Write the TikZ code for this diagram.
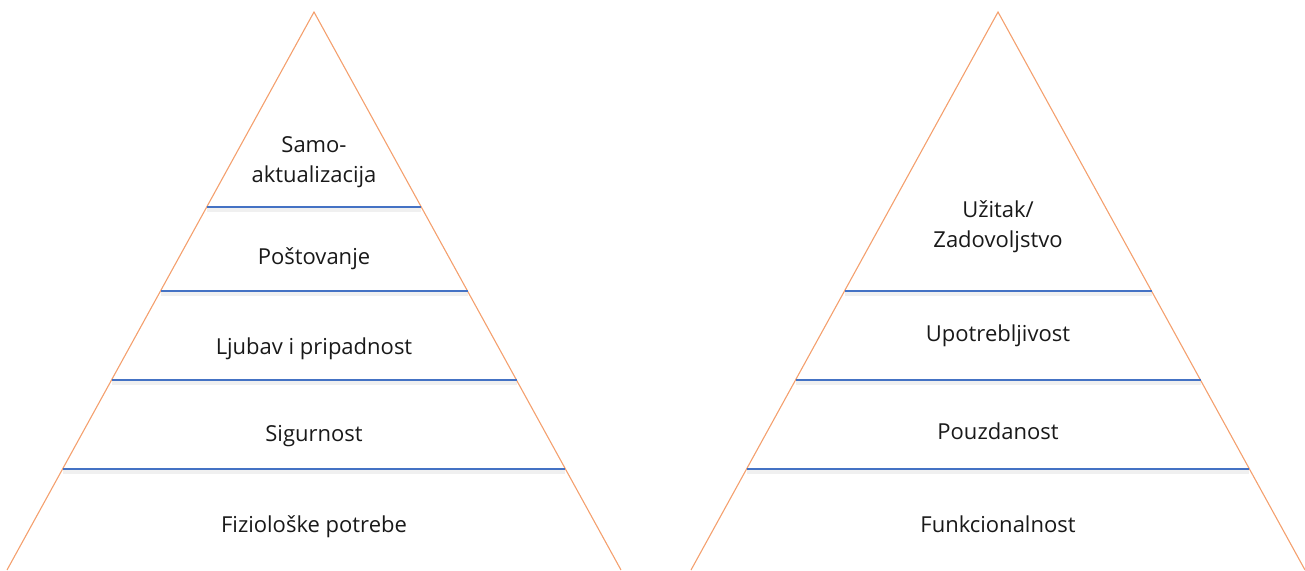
\documentclass[tikz,border=0pt]{standalone}
\usepackage{fontspec}
\setmainfont{Open Sans}
\usepackage{tikz}
\pgfdeclarelayer{bg}
\pgfsetlayers{bg,main}
\definecolor{edgeorange}{RGB}{244,160,110}
\definecolor{levelblue}{RGB}{68,114,196}
\tikzset{
    every node/.style={align=center, inner sep=0mm, font=\fontsize{22}{30}\selectfont, text=black!90}
}
\tikzset{side/.style={draw=edgeorange, line width=1.1pt}}
\tikzset{level/.style={draw=levelblue, line width=2.6pt}}
\tikzset{levelshadow/.style={draw=black, line width=4pt, opacity=.06}}

\begin{document}
\begin{tikzpicture}[x=1pt, y=-1pt]
        \useasboundingbox (0,0) rectangle (1305,570);
        % left pyramid
        \coordinate (a0) at (314,12);
        \coordinate (b0) at (7,570);
        \coordinate (c0) at (621,570);
        \draw [side] (b0) -- (a0) -- (c0);
        \coordinate (l1) at (206.7,207);
        \coordinate (r1) at (421.3,207);
        \coordinate (l2) at (160.5,291);
        \coordinate (r2) at (467.5,291);
        \coordinate (l3) at (111.5,380);
        \coordinate (r3) at (516.5,380);
        \coordinate (l4) at (62.6,469);
        \coordinate (r4) at (565.4,469);
        \node (v0) at (314,162) {Samo-\\aktualizacija};
        \node (v1) at (314,259) {Po\v{s}tovanje};
        \node (v2) at (314,349) {Ljubav i pripadnost};
        \node (v3) at (314,436) {Sigurnost};
        \node (v4) at (314,527) {Fiziolo\v{s}ke potrebe};
        % right pyramid
        \coordinate (a1) at (998,12);
        \coordinate (b1) at (691,570);
        \coordinate (c1) at (1305,570);
        \draw [side] (b1) -- (a1) -- (c1);
        \coordinate (l5) at (844.5,291);
        \coordinate (r5) at (1151.5,291);
        \coordinate (l6) at (795.5,380);
        \coordinate (r6) at (1200.5,380);
        \coordinate (l7) at (746.6,469);
        \coordinate (r7) at (1249.4,469);
        \node (w0) at (998,227) {U\v{z}itak/\\Zadovoljstvo};
        \node (w1) at (998,336) {Upotrebljivost};
        \node (w2) at (998,431) {Pouzdanost};
        \node (w3) at (998,524) {Funkcionalnost};
        \begin{pgfonlayer}{bg}
                \foreach \i in {1,...,7}
                        \draw [levelshadow] ([yshift=-3pt]l\i) -- ([yshift=-3pt]r\i);
        \end{pgfonlayer}
        \foreach \i in {1,...,7}
                \draw [level] (l\i) -- (r\i);
\end{tikzpicture}
\end{document}
